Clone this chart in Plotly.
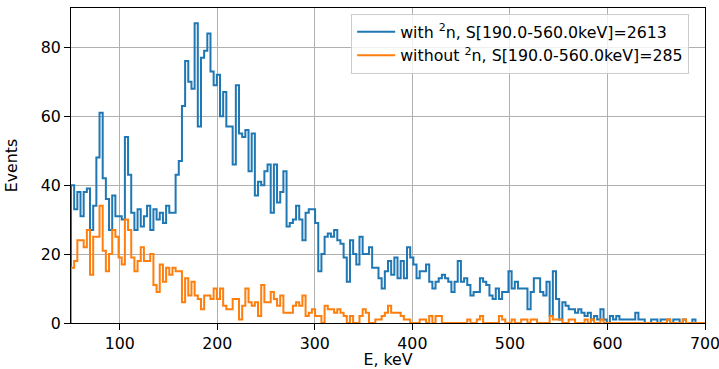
import numpy as np
import plotly.graph_objects as go

# Histogram binning (keV)
bin_start = 50.0
bin_stop = 700.0
n_bins = 200

# Events per bin, "with 2n"
with_2n = [
    40, 33, 38, 31, 38, 39, 27, 34, 48, 61, 42, 36, 27, 37, 31, 31, 30, 54, 43, 32, 27, 33, 28, 31, 34,
    27, 33, 30, 32, 29, 34, 32, 32, 43, 47, 63, 76, 70, 68, 87, 57, 77, 79, 84, 73, 69, 72, 60, 67, 57,
    57, 46, 69, 55, 54, 56, 44, 55, 37, 41, 40, 44, 46, 32, 46, 35, 38, 44, 28, 29, 30, 34, 30, 24, 32,
    33, 33, 29, 15, 20, 25, 26, 25, 27, 24, 23, 19, 12, 24, 20, 17, 25, 20, 20, 22, 16, 16, 13, 10, 15,
    18, 14, 19, 13, 18, 13, 22, 19, 17, 13, 15, 15, 17, 12, 10, 12, 13, 14, 13, 12, 9, 12, 18, 12, 13,
    11, 8, 9, 9, 13, 12, 11, 8, 7, 10, 7, 9, 9, 15, 10, 12, 10, 10, 10, 4, 9, 13, 13, 9, 8,
    12, 2, 15, 7, 1, 6, 5, 4, 4, 3, 4, 3, 2, 3, 1, 2, 1, 4, 1, 0, 2, 1, 2, 1, 1,
    1, 1, 1, 3, 1, 1, 0, 0, 1, 1, 0, 1, 1, 1, 0, 1, 1, 0, 1, 0, 0, 1, 0, 0, 0,
]

# Events per bin, "without 2n"
without_2n = [
    16, 18, 24, 24, 22, 27, 14, 25, 25, 34, 21, 15, 20, 27, 25, 19, 17, 30, 27, 19, 15, 18, 22, 18, 18,
    20, 11, 9, 17, 12, 16, 14, 16, 15, 15, 6, 13, 8, 12, 8, 7, 4, 8, 8, 7, 10, 7, 10, 5, 4,
    4, 7, 7, 1, 5, 10, 6, 5, 6, 2, 11, 6, 6, 9, 7, 5, 8, 3, 3, 3, 5, 6, 5, 8, 2,
    3, 4, 2, 2, 0, 5, 4, 4, 3, 4, 3, 2, 0, 2, 0, 0, 2, 4, 3, 0, 0, 1, 1, 2, 3,
    5, 3, 3, 3, 2, 1, 1, 0, 0, 0, 1, 1, 0, 2, 0, 2, 2, 0, 0, 0, 0, 0, 0, 0, 0,
    1, 0, 0, 1, 2, 0, 0, 0, 0, 0, 2, 1, 0, 0, 1, 0, 0, 1, 1, 0, 1, 1, 0, 0, 0,
    0, 2, 1, 1, 1, 0, 0, 1, 1, 0, 0, 0, 1, 0, 1, 0, 0, 1, 0, 0, 0, 0, 0, 0, 0,
    0, 0, 0, 0, 0, 0, 0, 0, 0, 0, 0, 0, 0, 1, 0, 0, 0, 0, 1, 0, 0, 0, 0, 0, 0,
]

series_names = [
    "with <sup>2</sup>n, S[190.0-560.0keV]=2613",
    "without <sup>2</sup>n, S[190.0-560.0keV]=285",
]
series_colors = ["#1f77b4", "#ff7f0e"]

x_ticks = [100, 200, 300, 400, 500, 600, 700]
y_ticks = [0, 20, 40, 60, 80]

edges = np.linspace(bin_start, bin_stop, n_bins + 1)


def step_xy(counts):
    # matplotlib "step" histogram outline: up from 0 at first edge, down to 0 at last edge
    xs = [edges[0]] + list(edges[:-1]) + [edges[-1]]
    ys = [0] + list(counts) + [0]
    return xs, ys


fig = go.Figure()
for name, color, counts in zip(series_names, series_colors, [with_2n, without_2n]):
    xs, ys = step_xy(counts)
    fig.add_trace(go.Scatter(
        x=xs, y=ys, mode="lines", line=dict(shape="hv", color=color, width=2),
        name=name, legendgroup=name,
    ))

font = dict(family="DejaVu Sans", size=15.8, color="black")

fig.update_layout(
    width=719, height=369,
    margin=dict(l=71, r=14, t=8, b=46),
    paper_bgcolor="white", plot_bgcolor="white",
    font=font,
    showlegend=True,
    legend=dict(
        x=0.975, y=0.981, xanchor="right", yanchor="top",
        bgcolor="rgba(255,255,255,0.8)", bordercolor="#cccccc", borderwidth=1,
        font=font, tracegroupgap=0, traceorder="grouped", itemwidth=38,
    ),
)
fig.update_xaxes(
    range=[bin_start, bin_stop], tickvals=x_ticks, automargin=False,
    ticklabeloverflow="allow",
    showgrid=True, gridcolor="#b0b0b0", gridwidth=1.2,
    showline=True, linecolor="black", linewidth=1.2, mirror=True,
    ticks="outside", ticklen=6, tickwidth=1.2, tickcolor="black", zeroline=False,
    title=dict(text="E, keV", font=font, standoff=2),
)
fig.update_yaxes(
    range=[0, 91.4], tickvals=y_ticks, automargin=False,
    showgrid=True, gridcolor="#b0b0b0", gridwidth=1.2,
    showline=True, linecolor="black", linewidth=1.2, mirror=True,
    ticks="outside", ticklen=6, tickwidth=1.2, tickcolor="black", zeroline=False,
    title=dict(text="Events", font=font, standoff=19),
)

# remove the browser's default page margin so the figure fills the window exactly
fig.write_html(
    "out.html",
    config={"displayModeBar": False},
    post_script="document.body.style.margin='0';document.body.style.overflow='hidden';",
)
